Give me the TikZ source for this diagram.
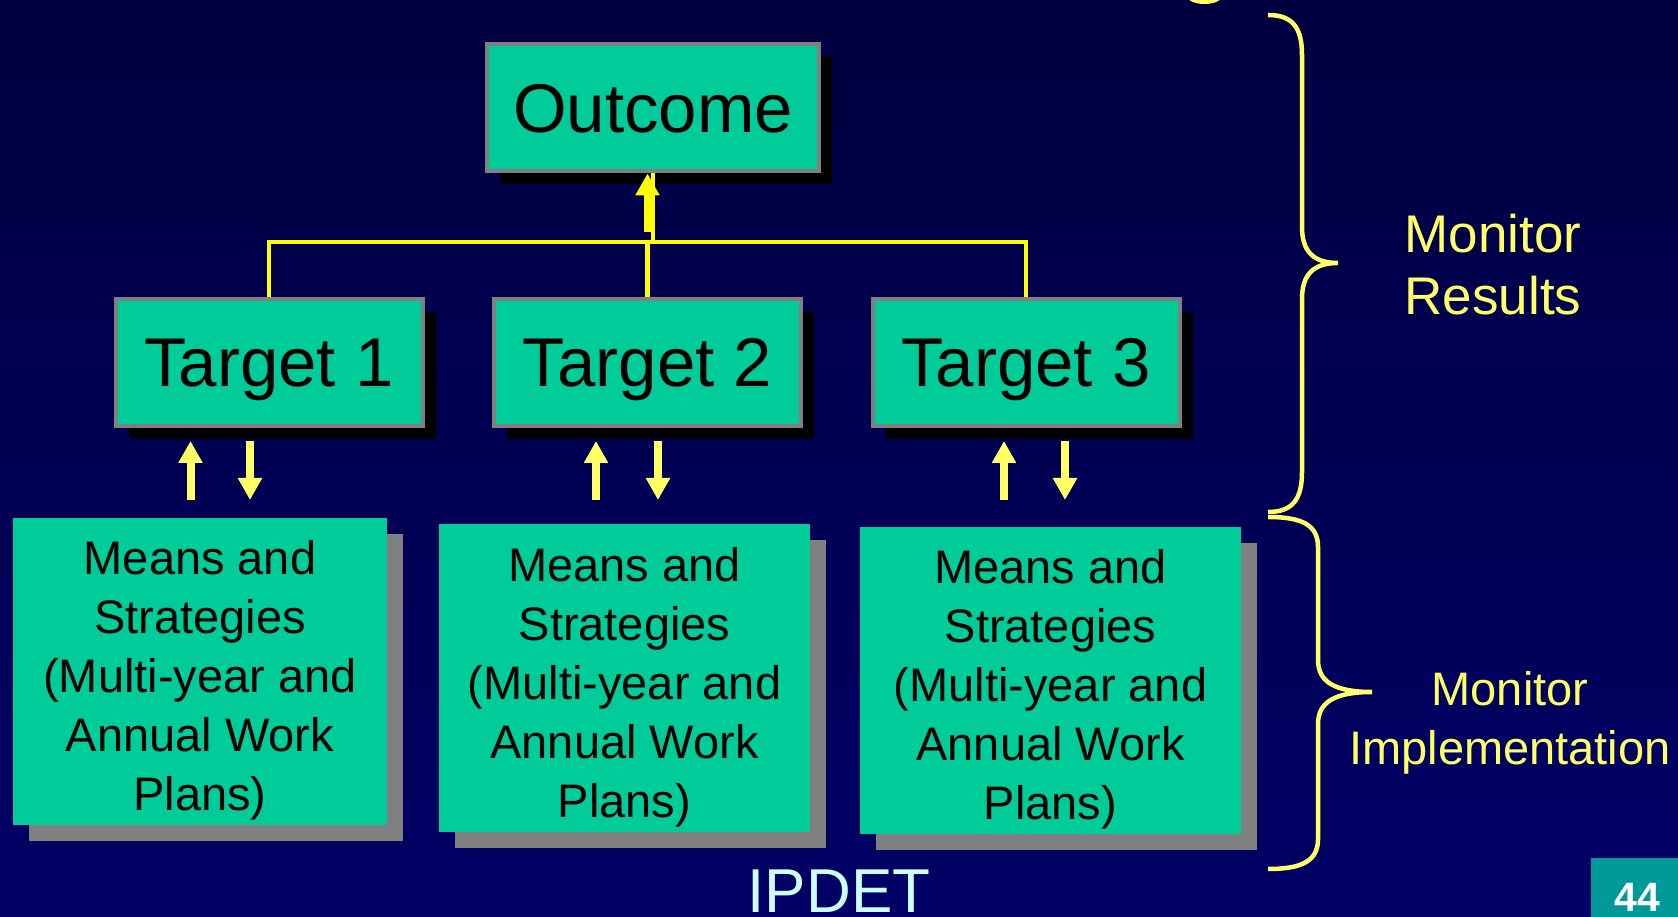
\documentclass[tikz,border=0pt]{standalone}
\usepackage{fontspec}
\setmainfont{Liberation Sans}
\usepackage{xcolor}
\usepackage{tikz}
\usetikzlibrary{arrows.meta,shadows}

\definecolor{bgtop}{HTML}{000040}
\definecolor{bgbot}{HTML}{000066}
\definecolor{boxgreen}{HTML}{00CC99}
\definecolor{boxgray}{HTML}{808080}
\definecolor{busyellow}{HTML}{FFFF00}
\definecolor{lightyellow}{HTML}{FFFF66}
\definecolor{ipdetcyan}{HTML}{CCFFFF}
\definecolor{pageteal}{HTML}{009999}

\newcommand{\meanstext}{\rule{0pt}{52pt}Means and\\Strategies\\(Multi-year and\\Annual Work\\Plans)}

\tikzset{
  goalbox/.style={draw=boxgray, line width=4pt, fill=boxgreen, inner sep=0pt,
    minimum width=307pt, minimum height=127pt, text depth=0pt,
    font=\fontsize{69}{83}\selectfont,
    drop shadow={shadow xshift=13pt, shadow yshift=-13pt, fill=black, opacity=1}},
  meansbox/.style={fill=boxgreen, inner sep=0pt, minimum height=307pt, align=center,
    font=\fontsize{47}{59}\selectfont,
    drop shadow={shadow xshift=16pt, shadow yshift=-16pt, fill=boxgray, opacity=1}},
  bus/.style={draw=busyellow, line width=4.5pt},
  bigup/.style={draw=busyellow, line width=8pt, -{Triangle[width=23pt,length=22pt]}},
  updown/.style={draw=lightyellow, line width=8pt, -{Triangle[width=23pt,length=22pt]}},
  curly/.style={draw=lightyellow, line width=4.5pt},
  monitor/.style={text=lightyellow, align=center}
}

\begin{document}
\begin{tikzpicture}[x=1pt, y=1pt]
% slide background
\useasboundingbox (0,0) rectangle (1678,917);
\shade[top color=bgtop, bottom color=bgbot] (0,0) rectangle (1678,917);
\fill[lightyellow] (1204.5,921) ellipse [x radius=17.5, y radius=8];

% outcome and targets
\node[goalbox, minimum width=332pt] (outcome) at (653,809) {Outcome};
\node[goalbox] (T1) at (269,554.5) {Target 1};
\node[goalbox] (T2) at (647.5,554.5) {Target 2};
\node[goalbox] (T3) at (1026,554.5) {Target 3};

% means and strategies
\node[meansbox, minimum width=374pt] (M1) at (200,245.5) {\meanstext};
\node[meansbox, minimum width=371pt, minimum height=308pt] (M2) at (624.5,238.5) {\meanstext};
\node[meansbox, minimum width=381pt] (M3) at (1050.5,236.5) {\meanstext};

% targets feed the outcome
\coordinate (bus) at (0,675);
\draw[bus] (T1.north) -- (T1.north |- bus) -- (T3.north |- bus) -- (T3.north);
\draw[bus] (T2.north) -- (T2.north |- bus);
\draw[bus] (outcome.south |- bus) -- (outcome.south);
\draw[bigup] ([yshift=10pt]T2.north |- bus) -- (T2.north |- outcome.south);

% two-way arrows between targets and means
\foreach \i/\up/\dn in {1/-78.5/-19, 2/-51.5/10.5, 3/-22/39} {
  \draw[updown] ([shift={(\up,-72)}]T\i.south) -- ++(0,59);
  \draw[updown] ([shift={(\dn,-13)}]T\i.south) -- ++(0,-59);
}

% braces
\draw[curly] (1268,902) .. controls (1292,902) and (1302,890) .. (1302,862) -- (1302,690)
  .. controls (1302,665) and (1314,654) .. (1338,654)
  .. controls (1314,654) and (1302,643) .. (1302,618) -- (1302,445)
  .. controls (1302,417) and (1292,405) .. (1268,405);
\draw[curly] (1268,400) .. controls (1302,400) and (1318,392) .. (1318,370) -- (1318,257)
  .. controls (1318,235) and (1335,225) .. (1372,225)
  .. controls (1335,225) and (1318,215) .. (1318,193) -- (1318,78)
  .. controls (1318,56) and (1302,48) .. (1268,48);

\node[monitor, font=\fontsize{53}{62}\selectfont] (results) at (1493,652) {Monitor\\Results};
\node[monitor, font=\fontsize{47}{59}\selectfont] (impl) at (1510,194) {Monitor\\Implementation};

% footer
\node[anchor=base, text=ipdetcyan, font=\fontsize{62}{74}\selectfont] (ipdet) at (839,4) {IPDET};
\fill[pageteal] (1591,0) rectangle (1678,59);
\node[anchor=base, text=white, font=\fontsize{41}{49}\selectfont\bfseries] (pagenum) at (1637.5,5) {44};
\end{tikzpicture}
\end{document}
